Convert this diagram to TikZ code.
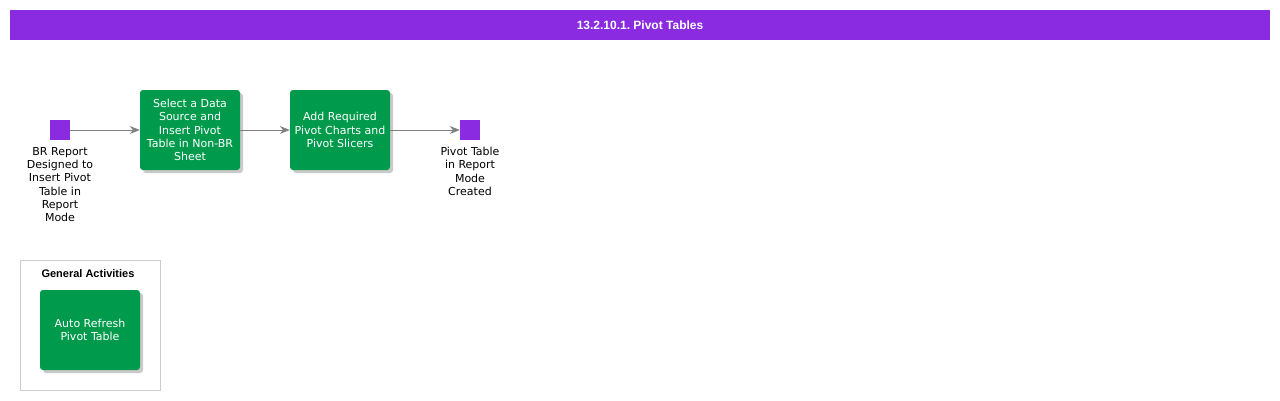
\documentclass[tikz,border=0pt]{standalone}
\usepackage{fontspec}
\setmainfont{DejaVu Sans}
\newfontfamily\headfont{Liberation Sans}
\usetikzlibrary{arrows.meta,shadows}
\definecolor{bpurple}{HTML}{8A2BE2}
\definecolor{bgreen}{HTML}{009A4C}
\definecolor{conn}{HTML}{808080}
\definecolor{frame}{HTML}{CCCCCC}
\frenchspacing
\tikzset{
  event/.style={fill=bpurple,draw=none,minimum width=20pt,minimum height=20pt,inner sep=0pt},
  task/.style={fill=bgreen,draw=none,rounded corners=3pt,minimum width=100pt,minimum height=80pt,
    text=white,align=center,inner sep=0pt,font=\fontsize{11}{13.3}\selectfont,
    drop shadow={shadow xshift=3pt,shadow yshift=-3pt,fill=black!35,opacity=0.6}},
  lbl/.style={align=center,font=\fontsize{11}{13.3}\selectfont,inner sep=0pt,anchor=north},
  conn/.style={draw=conn,line width=1pt,-{Stealth[length=10pt,width=8pt]}},
}
\begin{document}
\begin{tikzpicture}[x=1pt,y=-1pt]
\useasboundingbox (0,0) rectangle (1280,400);
\node[fill=bpurple,minimum width=1260pt,minimum height=30pt,inner sep=0pt,text=white,
  font=\headfont\bfseries\fontsize{12}{14}\selectfont] (head) at (640,25) {13.2.10.1. Pivot Tables};

\node[event] (start) at (60,130) {};
\node[lbl] (startl) at (60,147) {BR Report\\Designed to\\Insert Pivot\\Table in\\Report\\Mode};

\node[task] (t1) at (190,130) {Select a Data\\Source and\\Insert Pivot\\Table in Non-BR\\Sheet};
\node[task] (t2) at (340,130) {Add Required\\Pivot Charts and\\Pivot Slicers};

\node[event] (end) at (470,130) {};
\node[lbl] (endl) at (470,147) {Pivot Table\\in Report\\Mode\\Created};

\draw[conn] (start) -- (t1);
\draw[conn] (t1) -- (t2);
\draw[conn] (t2) -- (end);

\node[draw=frame,line width=0.8pt,minimum width=140pt,minimum height=130pt,inner sep=0pt] (ga) at (90,325) {};
\node[font=\headfont\bfseries\fontsize{11}{13}\selectfont,inner sep=0pt] (gat) at (88,274) {General Activities};
\node[task] (t3) at (90,330) {Auto Refresh\\Pivot Table};
\end{tikzpicture}
\end{document}
